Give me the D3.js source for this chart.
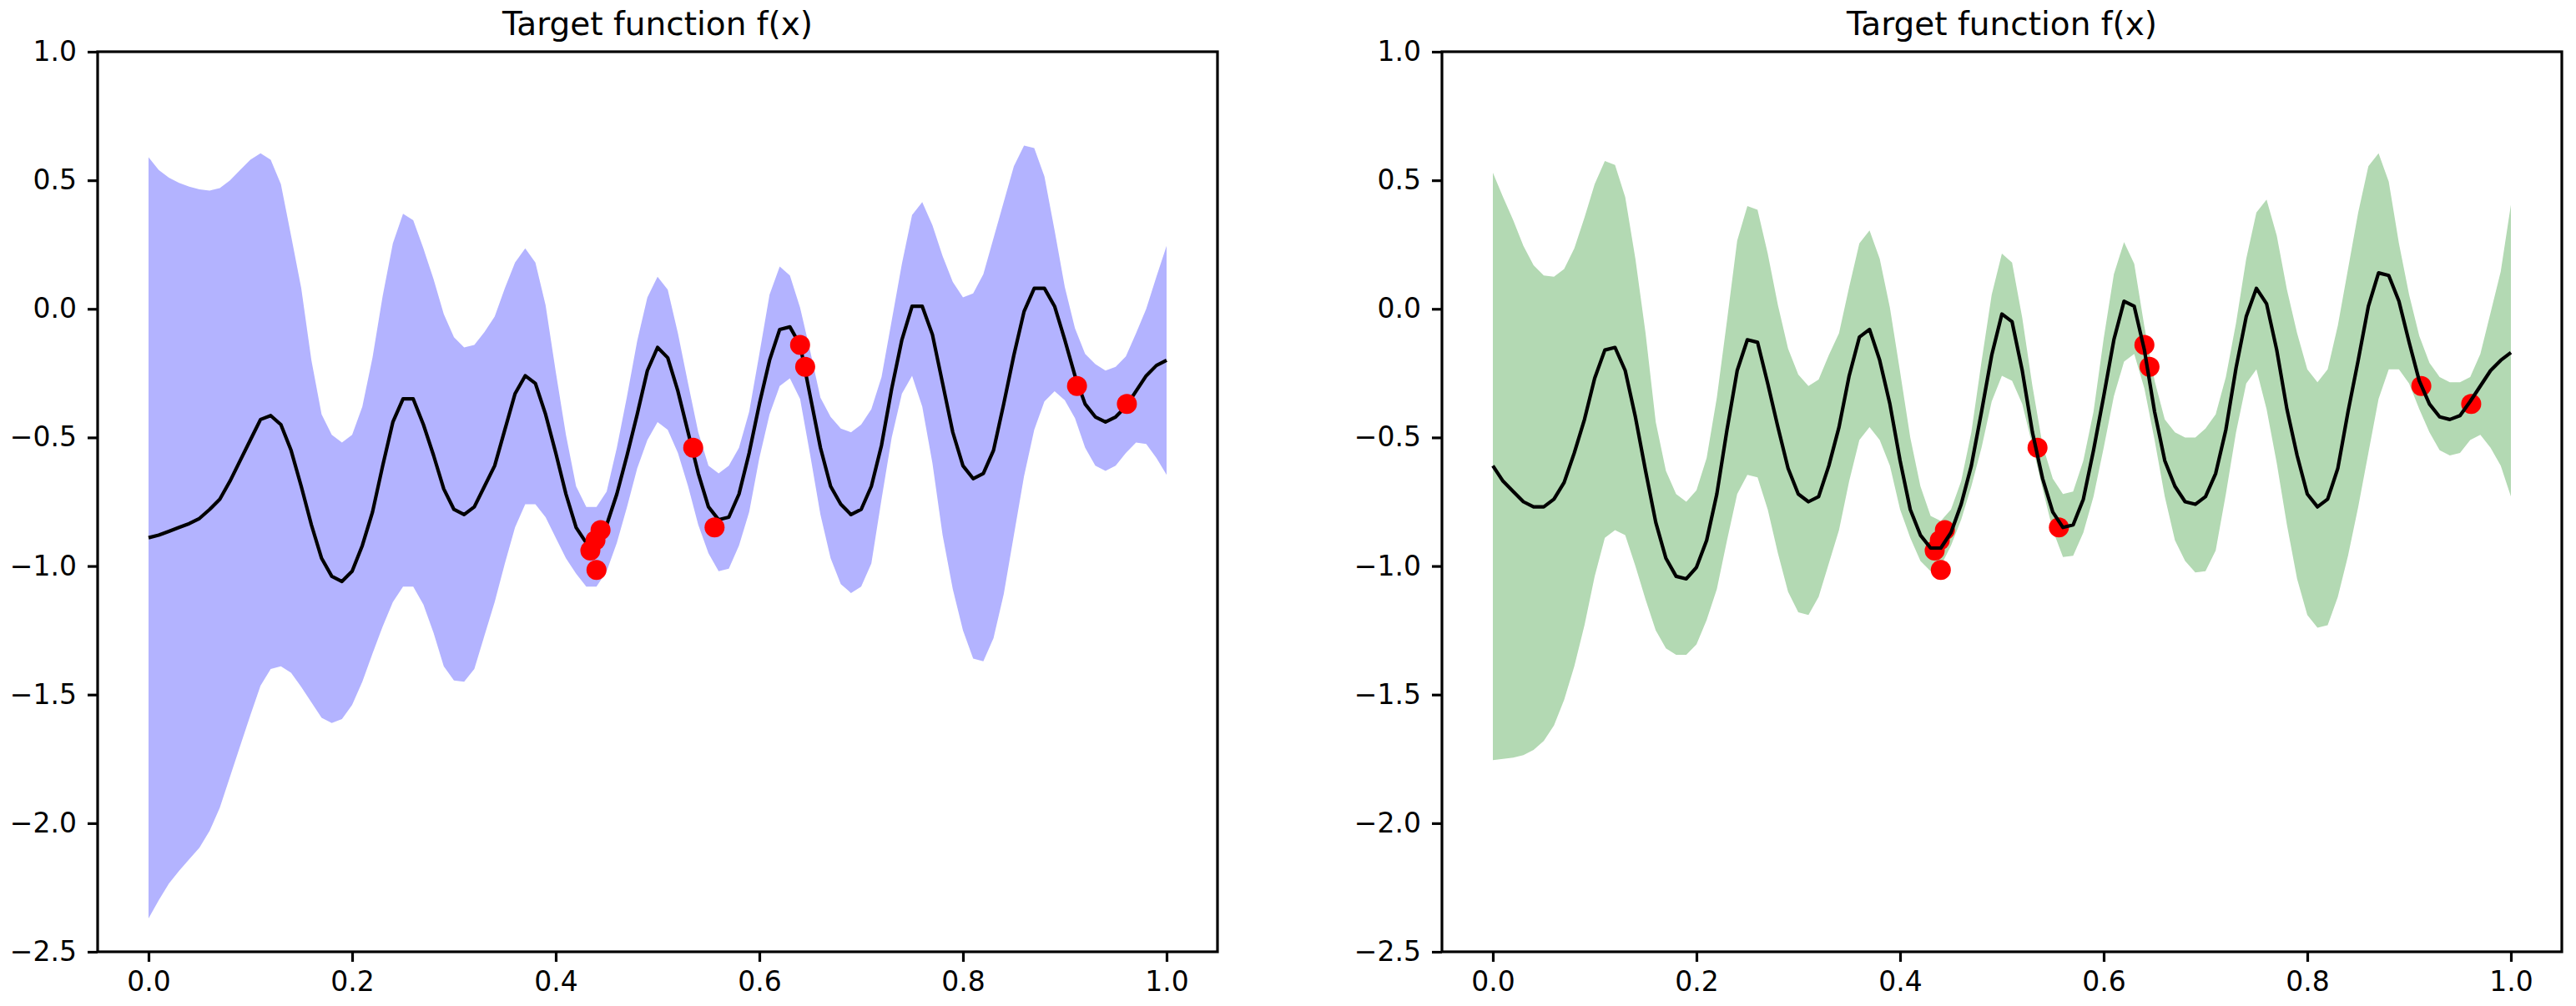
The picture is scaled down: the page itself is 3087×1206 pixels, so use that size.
<!DOCTYPE html>
<html>
<head>
<meta charset="utf-8">
<script src="https://cdn.jsdelivr.net/npm/d3@7"></script>
<style>
  html, body { margin: 0; padding: 0; background: #fff; }
  svg { display: block; }
  text { font-family: "DejaVu Sans", sans-serif; }
</style>
</head>
<body>
<svg id="chart" width="3087" height="1206"></svg>
<script>
// ---- data ----
const xGrid = [0.00,0.01,0.02,0.03,0.04,0.05,0.06,0.07,0.08,0.09,0.10,0.11,0.12,0.13,0.14,0.15,0.16,0.17,0.18,0.19,
0.20,0.21,0.22,0.23,0.24,0.25,0.26,0.27,0.28,0.29,0.30,0.31,0.32,0.33,0.34,0.35,0.36,0.37,0.38,0.39,
0.40,0.41,0.42,0.43,0.44,0.45,0.46,0.47,0.48,0.49,0.50,0.51,0.52,0.53,0.54,0.55,0.56,0.57,0.58,0.59,
0.60,0.61,0.62,0.63,0.64,0.65,0.66,0.67,0.68,0.69,0.70,0.71,0.72,0.73,0.74,0.75,0.76,0.77,0.78,0.79,
0.80,0.81,0.82,0.83,0.84,0.85,0.86,0.87,0.88,0.89,0.90,0.91,0.92,0.93,0.94,0.95,0.96,0.97,0.98,0.99,1.00];

const leftMean = [-0.89,-0.88,-0.865,-0.85,-0.835,-0.815,-0.78,-0.74,-0.67,-0.59,-0.51,-0.43,-0.415,-0.45,-0.55,-0.69,-0.84,-0.97,-1.04,-1.06,
-1.02,-0.92,-0.79,-0.61,-0.44,-0.35,-0.35,-0.45,-0.57,-0.70,-0.78,-0.80,-0.77,-0.69,-0.61,-0.47,-0.33,-0.26,-0.29,-0.41,
-0.56,-0.72,-0.85,-0.91,-0.91,-0.84,-0.72,-0.57,-0.41,-0.24,-0.15,-0.19,-0.32,-0.48,-0.64,-0.77,-0.82,-0.81,-0.72,-0.56,
-0.37,-0.20,-0.08,-0.07,-0.14,-0.34,-0.54,-0.69,-0.76,-0.80,-0.78,-0.69,-0.53,-0.31,-0.12,0.01,0.01,-0.10,-0.29,-0.48,
-0.61,-0.66,-0.64,-0.55,-0.37,-0.18,-0.01,0.08,0.08,0.01,-0.12,-0.26,-0.37,-0.42,-0.44,-0.42,-0.38,-0.32,-0.26,-0.22,-0.20];

const leftUpper = [0.59,0.54,0.51,0.49,0.475,0.465,0.46,0.47,0.50,0.54,0.58,0.605,0.58,0.485,0.285,0.08,-0.20,-0.41,-0.49,-0.52,
-0.49,-0.38,-0.19,0.05,0.255,0.37,0.345,0.235,0.115,-0.02,-0.11,-0.15,-0.14,-0.09,-0.03,0.08,0.18,0.235,0.18,0.015,
-0.245,-0.49,-0.69,-0.77,-0.77,-0.71,-0.54,-0.34,-0.125,0.045,0.125,0.075,-0.095,-0.29,-0.48,-0.61,-0.64,-0.61,-0.54,-0.40,
-0.175,0.055,0.165,0.13,0.005,-0.165,-0.345,-0.42,-0.465,-0.48,-0.45,-0.39,-0.265,-0.045,0.175,0.365,0.415,0.325,0.205,0.105,
0.045,0.06,0.135,0.275,0.415,0.555,0.635,0.625,0.515,0.305,0.085,-0.075,-0.175,-0.215,-0.24,-0.225,-0.185,-0.095,0.0,0.125,0.245];

const leftLower = [-2.37,-2.30,-2.235,-2.185,-2.14,-2.095,-2.03,-1.94,-1.82,-1.70,-1.58,-1.465,-1.40,-1.39,-1.415,-1.47,-1.53,-1.59,-1.61,-1.595,
-1.54,-1.45,-1.34,-1.235,-1.14,-1.08,-1.08,-1.15,-1.26,-1.39,-1.445,-1.45,-1.40,-1.27,-1.14,-0.99,-0.85,-0.76,-0.76,-0.81,
-0.89,-0.97,-1.03,-1.08,-1.08,-1.02,-0.91,-0.77,-0.62,-0.51,-0.44,-0.47,-0.56,-0.69,-0.84,-0.95,-1.02,-1.01,-0.92,-0.79,
-0.58,-0.41,-0.30,-0.27,-0.35,-0.57,-0.80,-0.97,-1.07,-1.105,-1.08,-0.99,-0.74,-0.50,-0.33,-0.26,-0.38,-0.60,-0.88,-1.09,
-1.25,-1.36,-1.37,-1.28,-1.11,-0.88,-0.65,-0.47,-0.36,-0.32,-0.355,-0.425,-0.54,-0.61,-0.63,-0.61,-0.56,-0.52,-0.525,-0.58,-0.645];

const rightMean = [-0.61,-0.67,-0.71,-0.75,-0.77,-0.77,-0.74,-0.675,-0.56,-0.43,-0.27,-0.16,-0.15,-0.24,-0.42,-0.63,-0.83,-0.97,-1.04,-1.05,
-1.005,-0.90,-0.72,-0.47,-0.24,-0.12,-0.13,-0.29,-0.46,-0.62,-0.72,-0.75,-0.73,-0.61,-0.46,-0.26,-0.11,-0.08,-0.20,-0.37,
-0.59,-0.78,-0.88,-0.93,-0.93,-0.87,-0.76,-0.61,-0.40,-0.18,-0.02,-0.05,-0.24,-0.48,-0.66,-0.79,-0.85,-0.84,-0.74,-0.55,
-0.34,-0.12,0.03,0.01,-0.16,-0.40,-0.59,-0.69,-0.75,-0.76,-0.73,-0.64,-0.47,-0.23,-0.03,0.08,0.02,-0.16,-0.39,-0.57,
-0.72,-0.77,-0.74,-0.62,-0.40,-0.20,0.01,0.14,0.13,0.03,-0.13,-0.28,-0.37,-0.42,-0.43,-0.415,-0.36,-0.30,-0.24,-0.20,-0.17];

const rightUpper = [0.53,0.435,0.345,0.245,0.17,0.13,0.125,0.155,0.235,0.355,0.485,0.575,0.56,0.435,0.195,-0.095,-0.44,-0.63,-0.72,-0.75,
-0.705,-0.58,-0.345,-0.045,0.265,0.40,0.385,0.215,0.015,-0.155,-0.255,-0.30,-0.275,-0.18,-0.095,0.085,0.255,0.305,0.195,0.005,
-0.245,-0.50,-0.69,-0.805,-0.825,-0.78,-0.67,-0.48,-0.205,0.055,0.215,0.18,-0.035,-0.30,-0.53,-0.66,-0.72,-0.71,-0.59,-0.40,
-0.115,0.135,0.26,0.175,-0.07,-0.28,-0.43,-0.48,-0.50,-0.50,-0.465,-0.41,-0.265,-0.055,0.195,0.375,0.425,0.285,0.075,-0.095,
-0.235,-0.285,-0.235,-0.065,0.155,0.375,0.555,0.605,0.495,0.255,0.055,-0.105,-0.21,-0.265,-0.285,-0.285,-0.265,-0.175,-0.015,0.145,0.405];

const rightLower = [-1.755,-1.75,-1.745,-1.735,-1.715,-1.68,-1.62,-1.52,-1.39,-1.23,-1.04,-0.89,-0.86,-0.88,-1.00,-1.13,-1.25,-1.32,-1.345,-1.345,
-1.305,-1.21,-1.09,-0.90,-0.72,-0.645,-0.655,-0.78,-0.95,-1.10,-1.18,-1.19,-1.12,-0.99,-0.86,-0.67,-0.51,-0.46,-0.51,-0.61,
-0.78,-0.89,-0.98,-1.02,-1.00,-0.92,-0.82,-0.69,-0.54,-0.36,-0.26,-0.28,-0.37,-0.53,-0.70,-0.86,-0.965,-0.96,-0.87,-0.73,
-0.54,-0.34,-0.205,-0.175,-0.31,-0.51,-0.73,-0.90,-0.98,-1.025,-1.02,-0.94,-0.72,-0.48,-0.29,-0.235,-0.39,-0.60,-0.84,-1.05,
-1.19,-1.24,-1.23,-1.12,-0.96,-0.77,-0.56,-0.35,-0.235,-0.235,-0.29,-0.39,-0.48,-0.55,-0.57,-0.56,-0.51,-0.49,-0.54,-0.61,-0.73];

const obsX = [0.434, 0.439, 0.444, 0.440, 0.535, 0.556, 0.640, 0.645, 0.912, 0.961];
const obsY = [-0.94, -0.90, -0.86, -1.015, -0.54, -0.85, -0.14, -0.225, -0.30, -0.37];

const xTicks = [0.0, 0.2, 0.4, 0.6, 0.8, 1.0];
const yTicks = [1.0, 0.5, 0.0, -0.5, -1.0, -1.5, -2.0, -2.5];
const titleText = "Target function f(x)";

// ---- layout ----
const svg = d3.select("#chart");
const axW = 1342, axH = 1079, axTop = 62;
const panels = [
  { left: 117, mean: leftMean, upper: leftUpper, lower: leftLower, fill: "#b3b3ff", dotsOnTop: true },
  { left: 1728, mean: rightMean, upper: rightUpper, lower: rightLower, fill: "#b3d9b3", dotsOnTop: false }
];
const fmt = d3.format(".1f");

panels.forEach(p => {
  const g = svg.append("g").attr("transform", `translate(${p.left},${axTop})`);
  const x = d3.scaleLinear().domain([-0.05, 1.05]).range([0, axW]);
  const y = d3.scaleLinear().domain([-2.5, 1.0]).range([axH, 0]);

  const pts = xGrid.map((xv, i) => ({ x: xv, m: p.mean[i], u: p.upper[i], l: p.lower[i] }));

  g.append("path")
    .datum(pts)
    .attr("fill", p.fill)
    .attr("stroke", "none")
    .attr("d", d3.area().x(d => x(d.x)).y0(d => y(d.l)).y1(d => y(d.u)));

  const drawLine = () => g.append("path")
    .datum(pts)
    .attr("fill", "none")
    .attr("stroke", "#000")
    .attr("stroke-width", 4.2)
    .attr("stroke-linejoin", "round")
    .attr("d", d3.line().x(d => x(d.x)).y(d => y(d.m)));

  const drawDots = () => g.append("g").selectAll("circle")
    .data(obsX.map((xv, i) => ({ x: xv, y: obsY[i] })))
    .join("circle")
    .attr("cx", d => x(d.x))
    .attr("cy", d => y(d.y))
    .attr("r", 12)
    .attr("fill", "#ff0000");

  if (p.dotsOnTop) { drawLine(); drawDots(); } else { drawDots(); drawLine(); }

  // axes
  const xAxis = g.append("g").attr("transform", `translate(0,${axH})`)
    .call(d3.axisBottom(x).tickValues(xTicks).tickFormat(fmt).tickSize(12).tickPadding(12));
  const yAxis = g.append("g")
    .call(d3.axisLeft(y).tickValues(yTicks).tickFormat(fmt).tickSize(12).tickPadding(13));
  [xAxis, yAxis].forEach(a => {
    a.select(".domain").remove();
    a.selectAll(".tick line").attr("stroke", "#000").attr("stroke-width", 3.2);
    a.selectAll(".tick text").attr("fill", "#000")
      .style("font-family", '"DejaVu Sans", sans-serif').style("font-size", "33px");
  });

  g.append("rect")
    .attr("x", 0).attr("y", 0).attr("width", axW).attr("height", axH)
    .attr("fill", "none").attr("stroke", "#000").attr("stroke-width", 3.2);

  g.append("text")
    .attr("x", axW / 2).attr("y", -20)
    .attr("text-anchor", "middle")
    .style("font-family", '"DejaVu Sans", sans-serif')
    .style("font-size", "39px")
    .attr("fill", "#000")
    .text(titleText);
});
</script>
</body>
</html>
